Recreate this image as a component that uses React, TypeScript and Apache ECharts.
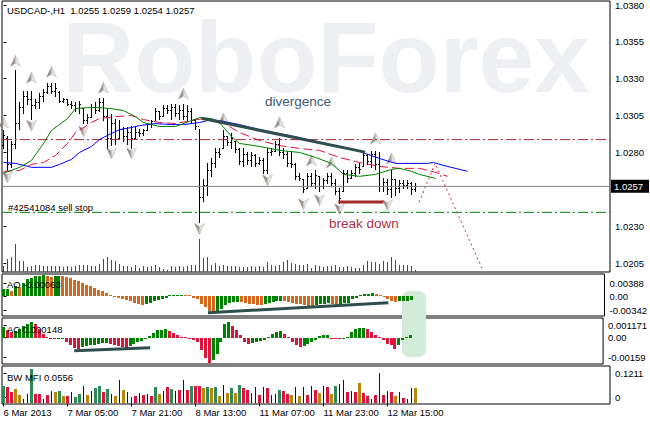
import React, { useEffect, useRef } from 'react';
import * as echarts from 'echarts';

const FONT = "'Liberation Sans', Arial, sans-serif";
const X_MIN = -0.375;
const X_MAX = 151.625;

const TICK_BARS = [0, 16, 32, 48, 64, 80, 96];
const TICK_LABELS = ['6 Mar 2013', '7 Mar 05:00', '7 Mar 21:00', '8 Mar 13:00', '11 Mar 07:00', '11 Mar 23:00', '12 Mar 15:00'];
const PRICE_TICKS = [1.0205, 1.023, 1.028, 1.0305, 1.033, 1.0355, 1.038];

const OPEN = [1.0285,1.0290,1.0272,1.0286,1.0300,1.0311,1.0318,1.0316,1.0312,1.0314,
1.0318,1.0321,1.0325,1.0322,1.0321,1.0315,1.0316,1.0313,1.0312,1.0310,
1.0310,1.0302,1.0304,1.0311,1.0309,1.0314,1.0305,1.0290,1.0300,1.0290,
1.0296,1.0291,1.0294,1.0290,1.0294,1.0293,1.0295,1.0299,1.0301,1.0308,
1.0305,1.0310,1.0309,1.0311,1.0307,1.0309,1.0305,1.0308,1.0302,1.0298,
1.0250,1.0258,1.0268,1.0273,1.0280,1.0283,1.0291,1.0287,1.0288,1.0282,
1.0274,1.0279,1.0275,1.0278,1.0273,1.0275,1.0268,1.0280,1.0281,1.0286,
1.0280,1.0279,1.0273,1.0272,1.0264,1.0262,1.0256,1.0264,1.0259,1.0264,
1.0257,1.0261,1.0264,1.0259,1.0254,1.0254,1.0266,1.0263,1.0266,1.0270,
1.0271,1.0278,1.0274,1.0279,1.0272,1.0257,1.0260,1.0255,1.0262,1.0256,
1.0259,1.0258,1.0259,1.0255];
const HIGH = [1.0295,1.0291,1.0288,1.0336,1.0314,1.0322,1.0322,1.0322,1.0316,1.0320,
1.0323,1.0327,1.0327,1.0327,1.0322,1.0317,1.0316,1.0315,1.0314,1.0315,
1.0310,1.0306,1.0313,1.0314,1.0317,1.0317,1.0310,1.0306,1.0303,1.0302,
1.0297,1.0297,1.0298,1.0297,1.0296,1.0296,1.0300,1.0302,1.0310,1.0308,
1.0312,1.0312,1.0313,1.0313,1.0312,1.0313,1.0312,1.0310,1.0303,1.0296,
1.0262,1.0273,1.0276,1.0283,1.0283,1.0295,1.0291,1.0293,1.0288,1.0283,
1.0283,1.0280,1.0280,1.0279,1.0277,1.0276,1.0283,1.0283,1.0288,1.0290,
1.0283,1.0281,1.0280,1.0273,1.0266,1.0262,1.0266,1.0266,1.0268,1.0264,
1.0263,1.0266,1.0266,1.0262,1.0256,1.0268,1.0268,1.0268,1.0272,1.0273,
1.0280,1.0279,1.0281,1.0281,1.0280,1.0263,1.0262,1.0268,1.0262,1.0261,
1.0261,1.0261,1.0260,1.0259];
const LOW = [1.0283,1.0268,1.0270,1.0283,1.0296,1.0307,1.0313,1.0303,1.0310,1.0310,
1.0315,1.0320,1.0320,1.0318,1.0314,1.0314,1.0312,1.0310,1.0308,1.0307,
1.0300,1.0300,1.0304,1.0307,1.0308,1.0302,1.0283,1.0285,1.0286,1.0290,
1.0288,1.0286,1.0283,1.0290,1.0291,1.0292,1.0295,1.0297,1.0301,1.0303,
1.0305,1.0307,1.0303,1.0305,1.0303,1.0303,1.0302,1.0300,1.0296,1.0233,
1.0247,1.0251,1.0264,1.0270,1.0277,1.0283,1.0285,1.0283,1.0280,1.0272,
1.0271,1.0272,1.0271,1.0271,1.0272,1.0266,1.0266,1.0278,1.0281,1.0278,
1.0276,1.0271,1.0270,1.0262,1.0261,1.0253,1.0256,1.0257,1.0256,1.0254,
1.0256,1.0259,1.0258,1.0252,1.0246,1.0254,1.0260,1.0263,1.0264,1.0266,
1.0271,1.0272,1.0270,1.0269,1.0254,1.0254,1.0252,1.0250,1.0251,1.0253,
1.0256,1.0256,1.0252,1.0254];
const CLOSE = [1.0292,1.0272,1.0286,1.0300,1.0311,1.0318,1.0316,1.0312,1.0314,1.0318,
1.0321,1.0325,1.0322,1.0324,1.0315,1.0316,1.0313,1.0312,1.0310,1.0313,
1.0302,1.0304,1.0311,1.0309,1.0314,1.0305,1.0290,1.0300,1.0289,1.0296,
1.0291,1.0294,1.0290,1.0294,1.0293,1.0295,1.0299,1.0301,1.0308,1.0305,
1.0310,1.0309,1.0311,1.0307,1.0309,1.0305,1.0308,1.0302,1.0298,1.0250,
1.0258,1.0268,1.0273,1.0280,1.0279,1.0291,1.0287,1.0290,1.0282,1.0274,
1.0279,1.0275,1.0278,1.0273,1.0275,1.0268,1.0280,1.0281,1.0286,1.0280,
1.0279,1.0273,1.0272,1.0264,1.0263,1.0255,1.0264,1.0259,1.0265,1.0257,
1.0261,1.0264,1.0259,1.0254,1.0249,1.0266,1.0263,1.0266,1.0270,1.0269,
1.0278,1.0274,1.0279,1.0272,1.0257,1.0260,1.0255,1.0262,1.0256,1.0259,
1.0258,1.0259,1.0255,1.0257];

const VOLUME = [342,798,882,1698,642,642,282,342,402,438,
342,378,342,342,342,282,378,300,342,438,
402,402,342,342,498,798,882,702,642,498,
378,342,282,438,240,342,300,378,402,282,
198,102,342,300,342,300,342,402,402,1998,
840,882,438,540,342,438,342,342,342,300,
282,300,342,300,342,282,582,438,378,402,
582,702,540,480,438,438,498,240,438,378,
300,342,342,402,282,300,342,300,240,240,
438,642,582,582,480,642,600,882,738,402,
402,402,342,138];

const AO = [0.00119,0.00123,0.00098,0.00178,0.00160,0.00231,0.00294,0.00320,0.00352,0.00358,
0.00363,0.00347,0.00338,0.00356,0.00361,0.00347,0.00329,0.00312,0.00285,0.00258,
0.00231,0.00205,0.00178,0.00142,0.00116,0.00089,0.00062,0.00027,-0.00009,-0.00036,
-0.00053,-0.00071,-0.00089,-0.00116,-0.00134,-0.00151,-0.00142,-0.00116,-0.00089,-0.00062,
-0.00045,-0.00027,0.00018,0.00021,0.00023,0.00025,0.00021,0.00018,-0.00027,-0.00053,
-0.00125,-0.00178,-0.00249,-0.00303,-0.00267,-0.00214,-0.00151,-0.00116,-0.00107,-0.00098,
-0.00107,-0.00119,-0.00130,-0.00142,-0.00148,-0.00151,-0.00137,-0.00119,-0.00101,-0.00089,
-0.00084,-0.00089,-0.00107,-0.00119,-0.00130,-0.00142,-0.00155,-0.00160,-0.00166,-0.00151,
-0.00137,-0.00125,-0.00121,-0.00134,-0.00148,-0.00125,-0.00116,-0.00112,-0.00045,-0.00036,
0.00030,0.00041,0.00048,0.00050,0.00041,0.00018,-0.00009,-0.00048,-0.00089,-0.00101,
-0.00089,-0.00084,-0.00075,-0.00063];

const AC = [0.00066,0.00048,0.00036,0.00039,0.00054,0.00072,0.00084,0.00096,0.00084,0.00054,
0.00024,0.00006,-0.00006,-0.00009,-0.00003,-0.00002,-0.00024,-0.00042,-0.00060,-0.00066,
-0.00054,-0.00048,-0.00045,-0.00042,-0.00036,-0.00033,-0.00030,-0.00036,-0.00045,-0.00051,
-0.00057,-0.00063,-0.00048,-0.00036,-0.00024,-0.00018,-0.00009,0.00012,0.00030,0.00045,
0.00048,0.00050,0.00042,0.00030,0.00018,0.00006,0.00003,-0.00006,-0.00012,-0.00024,
-0.00072,-0.00120,-0.00150,-0.00132,-0.00096,-0.00024,0.00084,0.00096,0.00072,0.00048,
0.00018,-0.00024,-0.00036,-0.00030,-0.00024,-0.00018,-0.00012,0.00006,0.00024,0.00036,
0.00038,0.00024,0.00006,-0.00024,-0.00042,-0.00054,-0.00048,-0.00036,-0.00024,-0.00012,
0.00010,0.00016,0.00017,-0.00004,-0.00010,-0.00011,-0.00003,0.00006,0.00036,0.00051,
0.00057,0.00058,0.00054,0.00036,0.00018,0.00006,-0.00012,-0.00036,-0.00045,-0.00066,
-0.00042,-0.00012,0.00002,0.000148];

const MFI = [0.0595,0.0560,0.0385,0.0490,0.0280,0.0140,0.0315,0.1211,0.0326,0.0326,
0.0140,0.0280,0.0445,0.0410,0.0431,0.0256,0.0256,0.0385,0.0210,0.0326,
0.0620,0.0291,0.0431,0.0525,0.0606,0.0410,0.0490,0.0315,0.0256,0.0805,
0.0466,0.0410,0.0210,0.0256,0.0350,0.0291,0.0315,0.0256,0.0585,0.0326,
0.0431,0.0560,0.0501,0.0420,0.0466,0.0805,0.0466,0.0606,0.0606,0.0606,
0.0525,0.0560,0.0525,0.0585,0.0256,0.0641,0.0350,0.0525,0.0375,0.0641,
0.0525,0.0455,0.0350,0.0585,0.0291,0.0560,0.0525,0.0280,0.0326,0.0466,
0.0445,0.0326,0.0291,0.0585,0.0256,0.0585,0.0291,0.0606,0.0466,0.0350,
0.0606,0.0560,0.0326,0.0606,0.0676,0.0805,0.0410,0.0445,0.0410,0.0700,
0.0350,0.0256,0.0140,0.0291,0.1050,0.0291,0.0445,0.0396,0.0256,0.0410,
0.0175,0.0151,0.0525,0.0556];
const MFI_KIND = 'grryybbgrr' + 'brbygyrbgg' + 'bybggrgbyb' + 'ybbrbrbrgy' + 'brgbrbrgrr' +
  'ygygybygyg' + 'rrbbrbrbbg' + 'rrybybrbry' + 'brygbbrbry' + 'rrbrbrbryb' + 'rbby';

const JAW = [[0,1.02732],[3,1.02726],[7,1.02699],[12,1.02699],[14,1.02719],[17,1.02753],[19,1.02800],[22,1.02841],[24,1.02888],[27,1.02929],[29,1.02955],[32,1.02969],[34,1.02982],[38,1.02996],[42,1.02989],[45,1.02989],[49,1.03003],[52,1.03023],[54,1.03016],[59,1.02989],[64,1.02955],[69,1.02928],[74,1.02901],[79,1.02868],[84,1.02841],[89,1.02807],[94,1.02759],[98,1.02726],[106,1.02726],[107.5,1.02732],[110,1.02712],[116,1.02672]];
const TEETH = [[0,1.02672],[4,1.02678],[7,1.02719],[10,1.02732],[13,1.02780],[16,1.02861],[18,1.02935],[22,1.03003],[24,1.03030],[28,1.03043],[32,1.03050],[35,1.03023],[39,1.03003],[43,1.02996],[47,1.03016],[50,1.03030],[54,1.03016],[59,1.02935],[64,1.02881],[69,1.02847],[74,1.02827],[79,1.02814],[84,1.02766],[89,1.02732],[94,1.02705],[99,1.02692],[104,1.02692],[108,1.02665],[111,1.02638]];
const LIPS = [[0,1.02658],[4,1.02699],[7,1.02746],[10,1.02861],[12,1.02949],[16,1.03030],[18,1.03097],[21,1.03104],[24,1.03104],[27,1.03097],[30,1.03084],[33,1.03043],[35,1.03003],[39,1.02976],[43,1.02976],[47,1.03016],[49,1.03036],[52,1.03030],[54,1.03003],[57,1.02908],[59,1.02861],[64,1.02841],[69,1.02814],[74,1.02800],[78,1.02766],[82,1.02726],[85,1.02651],[89,1.02638],[93,1.02651],[97,1.02685],[99,1.02692],[102,1.02672],[104,1.02651],[108,1.02624]];

const FRACTAL_UP = [[0,1.03003],[3,1.03422],[7,1.03307],[12,1.03347],[25,1.03239],[45,1.03199],[55,1.03030],[69,1.03003],[77,1.02746],[82,1.02732],[93,1.02895],[97,1.02759]];
const FRACTAL_DOWN = [[1,1.02631],[7,1.02982],[20,1.02942],[27,1.02793],[32,1.02793],[49,1.02280],[66,1.02611],[75,1.02449],[79,1.02476],[84,1.02415],[96,1.02442]];

const FORECAST = [[103.9,1.02462],[107.9,1.02726],[119.6,1.02016]];
const DIVERGENCE = [[49.5,1.03032],[90.4,1.02802]];
const BREAKDOWN = [[83.7,1.02464],[95.0,1.02464]];
const AO_TREND = [[51.6,-0.00285],[97.1,-0.00111]];
const AC_TREND = [[17.9,-0.00079],[37.1,-0.00061]];

const LAST_PRICE = 1.0257;
const TP_LEVEL = 1.02887;
const SELL_STOP = 1.02394;

const AO_LABEL_POS = [0.00226, 0, -0.00238];
const AO_LABELS = ['0.00388', '0.00', '-0.00342'];
const AC_LABEL_POS = [0.00075, 0, -0.00119];
const AC_LABELS = ['0.001171', '0.00', '-0.00159'];
const MFI_LABEL_POS = [0.1055, 0.0215];
const MFI_LABELS = ['0.1211', '0'];

const MFI_COLORS: Record<string, string> = { g: '#2e8b57', r: '#dc143c', y: '#b8860b', b: '#0000cd' };

function ohlcRender(params: any, api: any) {
  const i = api.value(0);
  const pO = api.coord([i, api.value(1)]);
  const pH = api.coord([i, api.value(2)]);
  const pL = api.coord([i, api.value(3)]);
  const pC = api.coord([i, api.value(4)]);
  const px = Math.floor(pH[0]);
  const yH = Math.round(pH[1]);
  const yL = Math.round(pL[1]);
  const st = { fill: '#000' };
  return {
    type: 'group',
    children: [
      { type: 'rect', shape: { x: px, y: yH, width: 1, height: Math.max(1, yL - yH + 1) }, style: st },
      { type: 'rect', shape: { x: px - 1, y: Math.round(pO[1]), width: 1, height: 1 }, style: st },
      { type: 'rect', shape: { x: px + 1, y: Math.round(pC[1]), width: 1, height: 1 }, style: st },
    ],
  };
}

function volRender(params: any, api: any) {
  const i = api.value(0);
  const p0 = api.coord([i, 0]);
  const p1 = api.coord([i, api.value(1)]);
  const px = Math.floor(p0[0]);
  const top = Math.round(p1[1]);
  return { type: 'rect', shape: { x: px, y: top, width: 1, height: Math.round(p0[1]) - top }, style: { fill: '#008000' } };
}

function histRender(colors: string[]) {
  return (params: any, api: any) => {
    const i = api.value(0);
    const v = api.value(1);
    const f = api.value(2);
    const p0 = api.coord([i, 0]);
    const p1 = api.coord([i, v]);
    const px = Math.floor(p0[0]);
    const y0 = Math.round(p0[1]);
    const y1 = Math.round(p1[1]);
    let top = Math.min(y0, y1);
    let h = Math.abs(y1 - y0);
    if (h < 1) { h = 1; if (v < 0) top = y0; else top = y0 - 1; }
    return { type: 'rect', shape: { x: px - 1, y: top, width: 3, height: h }, style: { fill: colors[f] } };
  };
}

function mfiRender(params: any, api: any) {
  const i = api.value(0);
  const v = api.value(1);
  const k = MFI_KIND[i];
  const p0 = api.coord([i, 0]);
  const p1 = api.coord([i, v]);
  const px = Math.floor(p0[0]);
  const top = Math.round(p1[1]);
  const y0 = Math.round(p0[1]);
  const wide = k !== 'b';
  return {
    type: 'rect',
    shape: { x: wide ? px - 1 : px, y: top, width: wide ? 3 : 1, height: Math.max(1, y0 - top) },
    style: { fill: MFI_COLORS[k] },
  };
}

export default function App() {
  const ref = useRef<HTMLDivElement>(null);
  useEffect(() => {
    if (!ref.current) return;
    const chart = echarts.init(ref.current, null, { renderer: 'svg' });

    const labelStyle = { fontSize: 9.5, fontFamily: FONT, color: '#000' };
    const gridBase = { left: 2, right: 40, show: true, borderColor: '#000', borderWidth: 1, backgroundColor: 'transparent' };

    const xAxes = [0, 1, 2, 3].map((g) => ({
      type: 'value', gridIndex: g, min: X_MIN, max: X_MAX, show: g === 3, position: 'bottom',
      axisLine: { show: false }, splitLine: { show: false },
      axisTick: { show: true, customValues: TICK_BARS, length: 3, lineStyle: { color: '#000' } },
      axisLabel: {
        customValues: TICK_BARS, align: 'left', margin: 3, ...labelStyle,
        formatter: (v: number) => TICK_LABELS[TICK_BARS.indexOf(Math.round(v))] ?? '',
      },
    }));

    const yBase = (grid: number, min: number, max: number, pos: number[], fmt: (v: number) => string) => ({
      type: 'value', gridIndex: grid, position: 'right', min, max,
      axisLine: { show: false }, splitLine: { show: false },
      axisTick: { show: true, customValues: pos, length: 3, lineStyle: { color: '#000' } },
      axisLabel: { customValues: pos, margin: 5, ...labelStyle, formatter: fmt },
    });

    const arrowFill = new echarts.graphic.LinearGradient(0, 0, 1, 0, [
      { offset: 0, color: '#5c5c5c' }, { offset: 0.48, color: '#a08a7c' },
      { offset: 0.52, color: '#d6d6d6' }, { offset: 1, color: '#f2f2f2' },
    ]);

    const aoData = AO.map((v, i) => [i, v, i > 0 && v < AO[i - 1] ? 1 : 0]);
    const acData = AC.map((v, i) => [i, v, i > 0 && v < AC[i - 1] ? 1 : 0]);

    const option: any = {
      animation: false,
      backgroundColor: '#fff',
      grid: [
        { ...gridBase, top: 0, height: 272 },
        { ...gridBase, top: 274, height: 42 },
        { ...gridBase, top: 318, height: 46 },
        { ...gridBase, top: 366, height: 38 },
      ],
      xAxis: xAxes,
      yAxis: [
        yBase(0, 1.019892, 1.03827, PRICE_TICKS, (v) => v.toFixed(4)),
        { type: 'value', gridIndex: 0, min: 0, max: 16320, show: false, splitLine: { show: false } },
        yBase(1, -0.00342, 0.00388, AO_LABEL_POS, (v) => AO_LABELS[AO_LABEL_POS.indexOf(v)] ?? ''),
        yBase(2, -0.00159, 0.001171, AC_LABEL_POS, (v) => AC_LABELS[AC_LABEL_POS.indexOf(v)] ?? ''),
        yBase(3, -0.002, 0.131, MFI_LABEL_POS, (v) => MFI_LABELS[MFI_LABEL_POS.indexOf(v)] ?? ''),
      ],
      graphic: [
        { type: 'text', x: 62, y: 57, z: 0, silent: true,
          style: { text: 'RoboForex', fill: '#eef0f4', fontSize: 100, lineHeight: 70, fontWeight: 'bold', fontFamily: FONT, verticalAlign: 'middle' } },
        { type: 'rect', z: 1, silent: true, shape: { x: 402, y: 291, width: 24, height: 66, r: 7 }, style: { fill: '#d3ecd9' } },
        { type: 'text', x: 7, y: 10, z: 10, style: { text: 'USDCAD-,H1  1.0255 1.0259 1.0254 1.0257', fill: '#000', fontSize: 9.5, fontFamily: FONT, verticalAlign: 'middle' } },
        { type: 'text', x: 265, y: 101, z: 10, style: { text: 'divergence', fill: '#3d5a78', fontSize: 13.5, fontFamily: FONT, verticalAlign: 'middle' } },
        { type: 'text', x: 329, y: 223, z: 10, style: { text: 'break down', fill: '#a8324a', fontSize: 13.5, fontFamily: FONT, verticalAlign: 'middle' } },
        { type: 'text', x: 8, y: 207, z: 10, style: { text: '#42541084 sell stop', fill: '#000', fontSize: 9.5, fontFamily: FONT, verticalAlign: 'middle' } },
        { type: 'text', x: 7, y: 284, z: 10, style: { text: 'AO -0.00063', fill: '#000', fontSize: 9.5, fontFamily: FONT, verticalAlign: 'middle' } },
        { type: 'text', x: 7, y: 329, z: 10, style: { text: 'AC 0.000148', fill: '#000', fontSize: 9.5, fontFamily: FONT, verticalAlign: 'middle' } },
        { type: 'text', x: 7, y: 377, z: 10, style: { text: 'BW MFI 0.0556', fill: '#000', fontSize: 9.5, fontFamily: FONT, verticalAlign: 'middle' } },
      ],
      series: [
        { type: 'custom', name: 'volume', xAxisIndex: 0, yAxisIndex: 1, renderItem: volRender,
          data: VOLUME.map((v, i) => [i, v]), encode: { x: 0, y: 1 }, silent: true },
        { type: 'line', name: 'tp', xAxisIndex: 0, yAxisIndex: 0, data: [[X_MIN, TP_LEVEL], [X_MAX, TP_LEVEL]],
          showSymbol: false, silent: true, lineStyle: { color: '#a52a2a', width: 1, type: [10, 3, 2, 3] } },
        { type: 'line', name: 'sellstop', xAxisIndex: 0, yAxisIndex: 0, data: [[X_MIN, SELL_STOP], [X_MAX, SELL_STOP]],
          showSymbol: false, silent: true, lineStyle: { color: '#008000', width: 1, type: [10, 3, 2, 3] } },
        { type: 'line', name: 'last', xAxisIndex: 0, yAxisIndex: 0, data: [[X_MIN, LAST_PRICE], [X_MAX, LAST_PRICE]],
          showSymbol: false, silent: true, lineStyle: { color: '#808080', width: 1 },
          endLabel: { show: true, formatter: () => LAST_PRICE.toFixed(4), color: '#fff', backgroundColor: '#000',
            padding: [2, 6, 1, 3], distance: 1, fontSize: 9.5, fontFamily: FONT } },
        { type: 'line', name: 'jaw', xAxisIndex: 0, yAxisIndex: 0, data: JAW, showSymbol: false, silent: true,
          lineStyle: { color: '#0000ff', width: 1 } },
        { type: 'line', name: 'teeth', xAxisIndex: 0, yAxisIndex: 0, data: TEETH, showSymbol: false, silent: true,
          lineStyle: { color: '#dc143c', width: 1, type: [9, 4] } },
        { type: 'line', name: 'lips', xAxisIndex: 0, yAxisIndex: 0, data: LIPS, showSymbol: false, silent: true,
          lineStyle: { color: '#008000', width: 1 } },
        { type: 'line', name: 'divergence', xAxisIndex: 0, yAxisIndex: 0, data: DIVERGENCE, showSymbol: false, silent: true,
          lineStyle: { color: '#2f4f4f', width: 3 } },
        { type: 'line', name: 'breakdown', xAxisIndex: 0, yAxisIndex: 0, data: BREAKDOWN, showSymbol: false, silent: true,
          lineStyle: { color: '#a52a2a', width: 3 } },
        { type: 'line', name: 'forecast', xAxisIndex: 0, yAxisIndex: 0, data: FORECAST, showSymbol: false, silent: true,
          lineStyle: { color: '#c8323c', width: 1, type: [2, 3] } },
        { type: 'custom', name: 'price', xAxisIndex: 0, yAxisIndex: 0, renderItem: ohlcRender, silent: true,
          data: OPEN.map((o, i) => [i, o, HIGH[i], LOW[i], CLOSE[i]]), encode: { x: 0, y: [1, 2, 3, 4] } },
        { type: 'scatter', name: 'fractalUp', xAxisIndex: 0, yAxisIndex: 0, data: FRACTAL_UP, silent: true,
          symbol: 'path://M5 0 L10 11 L5 8 L0 11 Z', symbolSize: [10, 11],
          itemStyle: { color: arrowFill, borderColor: '#9a9a9a', borderWidth: 0.5 } },
        { type: 'scatter', name: 'fractalDown', xAxisIndex: 0, yAxisIndex: 0, data: FRACTAL_DOWN, silent: true,
          symbol: 'path://M0 0 L5 3 L10 0 L5 11 Z', symbolSize: [10, 11],
          itemStyle: { color: arrowFill, borderColor: '#9a9a9a', borderWidth: 0.5 } },
        { type: 'custom', name: 'AO', xAxisIndex: 1, yAxisIndex: 2, renderItem: histRender(['#008000', '#d2691e']), silent: true,
          data: aoData, encode: { x: 0, y: 1 } },
        { type: 'line', name: 'aoTrend', xAxisIndex: 1, yAxisIndex: 2, data: AO_TREND, showSymbol: false, silent: true,
          lineStyle: { color: '#2f4f4f', width: 3 } },
        { type: 'custom', name: 'AC', xAxisIndex: 2, yAxisIndex: 3, renderItem: histRender(['#008000', '#dc143c']), silent: true,
          data: acData, encode: { x: 0, y: 1 } },
        { type: 'line', name: 'acTrend', xAxisIndex: 2, yAxisIndex: 3, data: AC_TREND, showSymbol: false, silent: true,
          lineStyle: { color: '#2f4f4f', width: 3 } },
        { type: 'custom', name: 'MFI', xAxisIndex: 3, yAxisIndex: 4, renderItem: mfiRender, silent: true,
          data: MFI.map((v, i) => [i, v]), encode: { x: 0, y: 1 } },
      ],
    };
    chart.setOption(option);
    return () => chart.dispose();
  }, []);
  return <div ref={ref} style={{ position: 'absolute', left: 0, top: 0, width: 650, height: 422, background: '#fff' }} />;
}
